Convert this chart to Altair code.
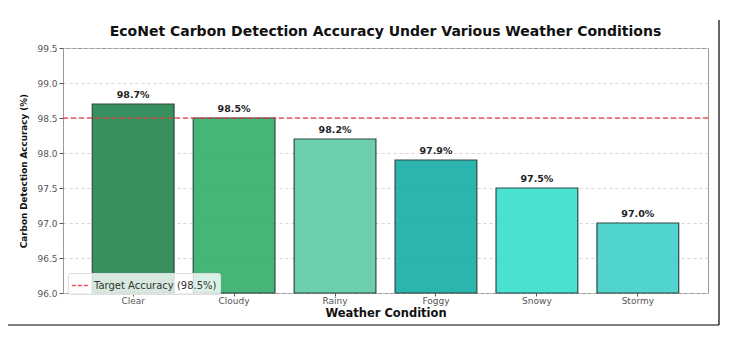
import altair as alt
import pandas as pd

conditions = ["Clear", "Cloudy", "Rainy", "Foggy", "Snowy", "Stormy"]
accuracy = [98.7, 98.5, 98.2, 97.9, 97.5, 97.0]
bar_colors = ["#2E8B57", "#3CB371", "#66CDAA", "#20B2AA", "#40E0D0", "#48D1CC"]
target_value = 98.5
target_label = "Target Accuracy (98.5%)"
y_ticks = [96.0, 96.5, 97.0, 97.5, 98.0, 98.5, 99.0, 99.5]

df = pd.DataFrame({
    "condition": conditions,
    "accuracy": accuracy,
    "color": bar_colors,
    "label": [f"{v:.1f}%" for v in accuracy],
})
target_df = pd.DataFrame({"y": [target_value], "name": [target_label]})
frame_df = pd.DataFrame({"a": [0]})

FONT = "DejaVu Sans"

x_axis = alt.Axis(labelAngle=0, titleFontWeight="bold", titleFontSize=11.5,
                  titlePadding=2, labelPadding=0, tickSize=3, domain=False,
                  labelFontSize=9, labelColor="#555", tickColor="#555")
x_enc = alt.X(
    "condition:N",
    sort=conditions,
    title="Weather Condition",
    scale=alt.Scale(paddingInner=0.19, paddingOuter=0.29),
    axis=x_axis,
)
y_scale = alt.Scale(domain=[96.0, 99.5], nice=False, zero=False)
y_axis = alt.Axis(values=y_ticks, tickCount=8, format=".1f", titleFontWeight="bold",
                  titleFontSize=8.8, titlePadding=8, tickSize=4, domain=False,
                  labelFontSize=9, labelColor="#555", tickColor="#555",
                  labelOverlap=False,
                  grid=True, gridDash=[3, 3], gridColor="#cccccc", gridWidth=0.8)
y_title = "Carbon Detection Accuracy (%)"

bars = alt.Chart(df).mark_bar(stroke="#22403a", strokeWidth=1.2, opacity=0.95).encode(
    x=x_enc,
    y=alt.Y("accuracy:Q", scale=y_scale, title=y_title, axis=y_axis),
    y2=alt.datum(96.0),
    fill=alt.Fill("color:N", scale=None),
)

labels = alt.Chart(df).mark_text(fontWeight="bold", fontSize=9.5, baseline="bottom",
                                 dy=-4, color="#222", font=FONT).encode(
    x=x_enc,
    y=alt.Y("accuracy:Q", scale=y_scale, title=y_title, axis=y_axis),
    text="label:N",
)

target = alt.Chart(target_df).mark_rule(strokeDash=[5, 3], strokeWidth=1.3, opacity=0.85).encode(
    y=alt.Y("y:Q", scale=y_scale, title=y_title, axis=y_axis),
    color=alt.Color("name:N", scale=alt.Scale(range=["#e8383d"]),
                    legend=alt.Legend(title=None, orient="none", legendX=5, legendY=225,
                                      symbolType="stroke", symbolDash=[4, 2],
                                      symbolStrokeWidth=1.3, symbolSize=300,
                                      labelFontSize=10, labelColor="#333",
                                      fillColor="rgba(255,255,255,0.8)",
                                      strokeColor="#dddddd", padding=3,
                                      cornerRadius=2)),
)

frame_right = alt.Chart(frame_df).mark_rule(color="#000", strokeWidth=1.2).encode(
    x=alt.value(656), y=alt.value(-28), y2=alt.value(277))
frame_bottom = alt.Chart(frame_df).mark_rule(color="#000", strokeWidth=1.2).encode(
    x=alt.value(-56), x2=alt.value(656), y=alt.value(277))

chart = alt.layer(bars, labels, target, frame_right, frame_bottom).properties(
    width=645,
    height=245,
    autosize=alt.AutoSizeParams(type="none"),
    padding={"left": 55, "top": 40, "right": 16, "bottom": 38},
    title=alt.TitleParams("EcoNet Carbon Detection Accuracy Under Various Weather Conditions",
                          fontSize=14, fontWeight="bold", offset=13, dy=33,
                          anchor="middle", color="#111"),
).configure(font=FONT).configure_view(stroke="#999", strokeWidth=1).configure_axis(
    titleColor="#111", labelFont=FONT, titleFont=FONT)

chart.save("out.html", embed_options={"renderer": "svg", "actions": False})
